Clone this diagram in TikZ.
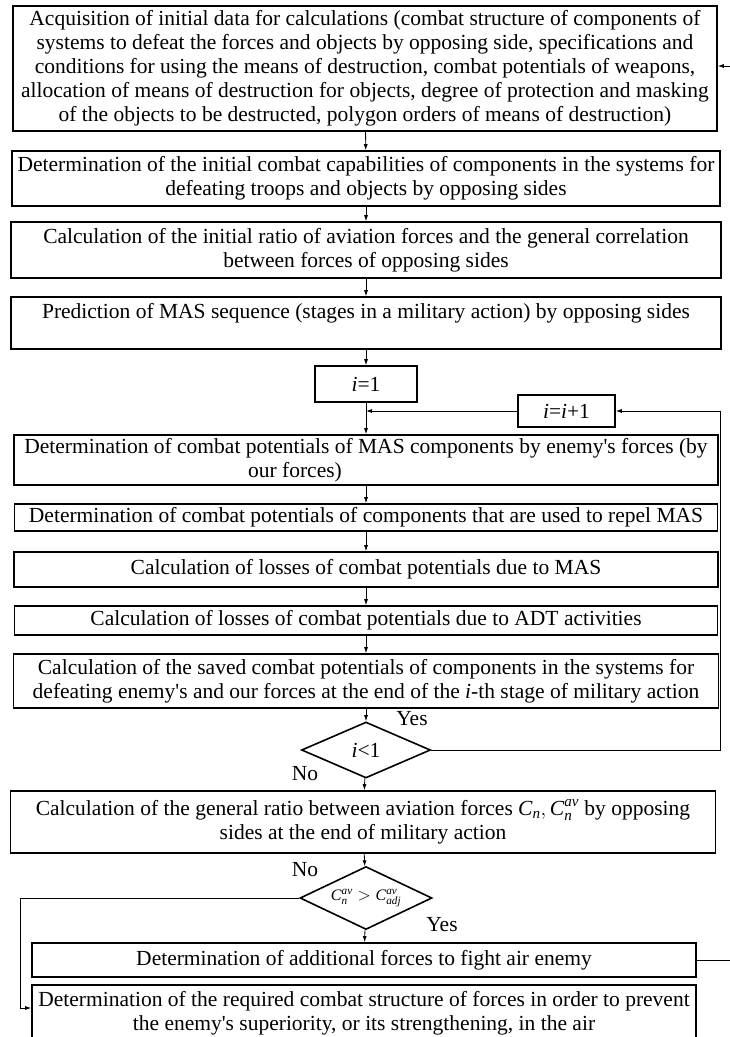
\documentclass[tikz,border=0pt]{standalone}
\usepackage{fontspec}
\setmainfont{Liberation Serif}
\usepackage{amsmath}
\usetikzlibrary{shapes.geometric,arrows.meta}
\newcommand{\itx}[1]{\text{\textit{#1}}}

\begin{document}
\begin{tikzpicture}[x=1pt, y=1pt, line width=0.8pt, >={Latex[length=6pt,width=4pt]},
  box/.style={draw, line width=1.6pt, align=center, inner sep=0pt, font=\fontsize{21.5}{24}\selectfont},
  dec/.style={draw, line width=1.6pt, diamond, aspect=2.2, inner sep=0pt, font=\fontsize{21.5}{24}\selectfont},
  lbl/.style={font=\fontsize{21.5}{24}\selectfont}]
  \useasboundingbox (0,0) rectangle (729,-1037);

  \node[box, minimum width=704pt, minimum height=125pt] (A) at (365,-68.5) {Acquisition of initial data for calculations (combat structure of components of\\
    systems to defeat the forces and objects by opposing side, specifications and\\
    conditions for using the means of destruction, combat potentials of weapons,\\
    allocation of means of destruction for objects, degree of protection and masking\\
    of the objects to be destructed, polygon orders of means of destruction)};
  \node[box, minimum width=708pt, minimum height=55pt] (B) at (366,-178.5) {Determination of the initial combat capabilities of components in the systems for\\
    defeating troops and objects by opposing sides};
  \node[box, minimum width=710pt, minimum height=56pt] (C) at (366,-250) {Calculation of the initial ratio of aviation forces and the general correlation\\
    between forces of opposing sides};
  \node[box, minimum width=710pt, minimum height=52pt] (D) at (366,-323) {Prediction of MAS sequence (stages in a military action) by opposing sides\\ \mbox{}};

  \node[box, minimum width=102pt, minimum height=36pt] (I) at (366,-384) {\textit{i}=1};
  \node[box, minimum width=97pt, minimum height=32pt] (P) at (566.5,-411) {\textit{i}=\textit{i}+1};

  \node[box, minimum width=704pt, minimum height=50pt] (E) at (366,-460) {Determination of combat potentials of MAS components by enemy\textquotesingle s forces (by\\
    our forces)\hspace*{142pt}};
  \node[box, minimum width=703pt, minimum height=27pt] (F) at (366,-517.5) {Determination of combat potentials of components that are used to repel MAS};
  \node[box, minimum width=704pt, minimum height=35pt] (G) at (366,-569.5) {Calculation of losses of combat potentials due to MAS};
  \node[box, minimum width=703pt, minimum height=29pt] (H) at (366,-620.5) {Calculation of losses of combat potentials due to ADT activities};
  \node[box, minimum width=705pt, minimum height=54pt] (J) at (366,-681) {Calculation of the saved combat potentials of components in the systems for\\
    defeating enemy\textquotesingle s and our forces at the end of the \textit{i}-th stage of military action};

  \node[dec, minimum width=129pt, minimum height=56pt] (Q) at (366,-750) {\textit{i}<1};

  \node[box, minimum width=705pt, minimum height=62pt] (K) at (363,-822) {Calculation of the general ratio between aviation forces $\itx{C}_{\itx{n}},\itx{C}_{\itx{n}}^{\itx{av}}$ by opposing\\
    sides at the end of military action};

  \node[dec, minimum width=132pt, minimum height=63pt, font=\fontsize{16}{18}\selectfont] (R) at (366,-898) {$\itx{C}_{\itx{n}}^{\itx{av}}>\itx{C}_{\itx{adj}}^{\itx{av}}$};

  \node[box, minimum width=664pt, minimum height=34pt] (M) at (364,-960) {Determination of additional forces to fight air enemy};
  \node[box, anchor=north, minimum width=664pt, minimum height=76pt] (N) at (364,-984) {Determination of the required combat structure of forces in order to prevent\\
    the enemy\textquotesingle s superiority, or its strengthening, in the air\\ \mbox{}};

  \node[lbl] (Y1) at (412,-719) {Yes};
  \node[lbl] (N1) at (305,-774) {No};
  \node[lbl] (N2) at (305,-870) {No};
  \node[lbl] (Y2) at (442,-925) {Yes};

  \coordinate (S) at (720,0);
  \coordinate (T) at (20,0);
  \coordinate (U) at (740,0);

  \draw[->] (A) -- (B);
  \draw[->] (B) -- (C);
  \draw[->] (C) -- (D);
  \draw[->] (D) -- (I);
  \draw[->] (I) -- (E);
  \draw[->] (P.west) -- (P.west -| I.south);
  \draw[->] (E) -- (F);
  \draw[->] (F) -- (G);
  \draw[->] (G) -- (H);
  \draw[->] (H) -- (J);
  \draw[->] (J) -- (Q);
  \draw[->] (Q.east) -- (Q.east -| S) |- (P.east);
  \draw[->] (Q) -- (K);
  \draw[->] (K) -- (R);
  \draw[->] (R) -- (M);
  \draw[->] (R.west) -- (R.west -| T) |- ([yshift=-24pt]N.north west);
  \draw (M.east) -- (M.east -| U);
  \draw[->] ([yshift=2.5pt]A.east -| U) -- ([yshift=2.5pt]A.east);
\end{tikzpicture}
\end{document}
